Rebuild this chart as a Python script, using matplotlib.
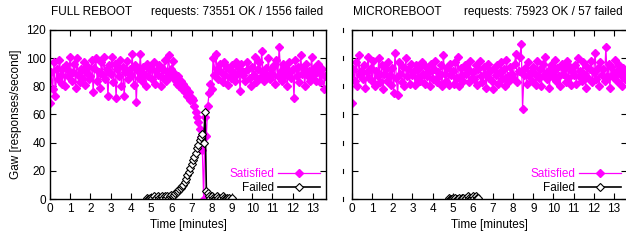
import numpy as np
import matplotlib
matplotlib.use('Agg')
import matplotlib.pyplot as plt

plt.rcParams['font.family'] = ['Liberation Sans', 'DejaVu Sans']
plt.rcParams['font.size'] = 8.5

MAGENTA = '#ff00ff'
STEP = 4  # seconds between samples

# full reboot: satisfied requests per second, one sample every 4 s
full_ok = [
    68, 90, 78, 97, 73, 92, 85, 99, 88, 82, 93, 80, 95, 87, 91,
    101, 84, 90, 96, 79, 100, 88, 83, 92, 86, 97, 81, 90, 94, 85,
    87, 99, 76, 93, 100, 84, 90, 79, 97, 88, 101, 85, 92, 73, 95,
    89, 101, 83, 96, 72, 92, 87, 99, 80, 94, 73, 90, 98, 85, 92,
    88, 103, 81, 95, 69, 91, 86, 103, 84, 94, 89, 80, 96, 87, 92,
    93, 85, 97, 82, 91, 88, 95, 80, 93, 86, 99, 84, 90, 102, 87,
    92, 98, 85, 89, 82, 87, 80, 84, 78, 82, 76, 79, 73, 76, 70,
    72, 70, 66, 62, 58, 55, 50, 44, 35, 0, 58, 45, 66, 75, 82,
    78, 100, 88, 103, 92, 85, 96, 90, 83, 97, 88, 94, 81, 92, 86,
    95, 90, 84, 97, 89, 93, 77, 96, 88, 90, 84, 97, 92, 86, 80,
    94, 88, 101, 83, 92, 97, 86, 105, 90, 84, 93, 88, 100, 85, 92,
    89, 95, 82, 99, 87, 108, 91, 84, 96, 88, 93, 80, 97, 90, 86,
    92, 72, 99, 87, 94, 83, 102, 89, 93, 80, 96, 88, 91, 84, 101,
    88, 93, 84, 90, 96, 83, 89, 92, 78, 87,
]
# full reboot: failed requests, starting at sample 72 (4.8 min)
full_fail_start = 72
full_fail = [
    1, 0, 1, 0, 1, 2, 0, 1, 2, 1, 1, 2, 1, 2, 1, 2, 1, 2,
    3, 2, 3, 4, 5, 6, 7, 8, 9, 10, 12, 14, 17, 19, 22,
    25, 28, 30, 33, 36, 38, 42, 44, 46, 40, 62, 6, 4, 2, 1,
    2, 1, 0, 1, 2, 1, 0, 1, 2, 1, 0, 1, 0, 1, 0, 1,
]

# microreboot
micro_ok = [
    68, 92, 84, 97, 80, 102, 88, 91, 85, 95, 79, 90, 101, 86, 93,
    84, 98, 80, 91, 87, 100, 83, 95, 78, 89, 92, 84, 97, 88, 81,
    93, 75, 104, 86, 74, 97, 89, 83, 94, 80, 100, 87, 92, 82, 96,
    88, 91, 81, 95, 86, 93, 84, 97, 89, 82, 94, 87, 90, 80, 96,
    85, 92, 98, 83, 90, 87, 95, 80, 102, 89, 84, 93, 81, 96, 88,
    91, 82, 97, 86, 101, 80, 93, 88, 84, 95, 89, 92, 83, 98, 86,
    90, 85, 95, 81, 92, 98, 87, 83, 94, 89, 79, 96, 86, 91, 84,
    78, 93, 88, 95, 82, 90, 97, 85, 92, 80, 99, 87, 84, 94, 89,
    86, 96, 103, 83, 91, 101, 110, 64, 88, 93, 82, 97, 87, 90, 84,
    94, 89, 81, 98, 86, 92, 80, 96, 88, 101, 85, 91, 79, 95, 87,
    90, 99, 84, 93, 87, 80, 96, 89, 92, 83, 98, 86, 94, 81, 91,
    88, 95, 82, 100, 87, 91, 84, 97, 89, 79, 94, 86, 92, 98, 83,
    90, 104, 85, 93, 80, 97, 88, 92, 84, 108, 87, 96, 79, 94, 89,
    86, 99, 91, 83, 95, 88, 80, 93, 85, 90,
]
micro_fail_start = 72
micro_fail = [1, 0, 0, 1, 0, 1, 0, 0, 1, 0, 1, 1, 0, 1, 2, 1, 0, 1, 2, 1, 2, 1, 1]

panels = [
    ('FULL REBOOT', 'requests: 73551 OK / 1556 failed', full_ok, full_fail_start, full_fail),
    ('MICROREBOOT', 'requests: 75923 OK / 57 failed', micro_ok, micro_fail_start, micro_fail),
]

W, H = 626, 243
fig = plt.figure(figsize=(W / 100, H / 100), dpi=100)

boxes = [(50, 326), (352, 627)]
top_px, bot_px = 30, 199

for k, (name, reqs, ok, fstart, fail) in enumerate(panels):
    x0, x1 = boxes[k]
    ax = fig.add_axes([x0 / W, 1 - bot_px / H, (x1 - x0) / W, (bot_px - top_px) / H])
    t_ok = np.arange(len(ok)) * STEP / 60
    t_fail = (fstart + np.arange(len(fail))) * STEP / 60
    ax.plot(t_ok, ok, color=MAGENTA, lw=0.9, marker='D', ms=4.2, mec=MAGENTA,
            mfc=MAGENTA, label='Satisfied')
    ax.plot(t_fail, fail, color='black', lw=1.2, marker='D', ms=4.4, mec='black',
            mfc='white', mew=0.8, label='Failed')

    ax.set_xlim(0, 13.65)
    ax.set_ylim(0, 120)
    ax.set_xticks(range(0, 14))
    ax.set_yticks(range(0, 121, 20))
    ax.tick_params(direction='in', length=4, width=0.8, top=True, right=True,
                   pad=3, labelsize=8.5)
    if k == 1:
        ax.set_yticklabels([])
        for yv in range(0, 121, 20):
            ax.plot([-0.45, -0.45], [yv - 1.5, yv + 1.5], color='black', lw=0.8,
                    clip_on=False)
    else:
        ax.set_ylabel('Gaw [responses/second]', labelpad=3)
    for s in ax.spines.values():
        s.set_linewidth(1.0)
    ax.set_xlabel('Time [minutes]', labelpad=3)

    ax.legend(loc='lower right', bbox_to_anchor=(1.0, -0.005), frameon=False,
              markerfirst=False, handlelength=3.6, handletextpad=0.3,
              labelspacing=0.15, borderpad=0.2, borderaxespad=0.3,
              labelcolor='linecolor', fontsize=8.5)

    fig.text(x0 / W + 0.002, 1 - 12 / H, name, ha='left', va='center', fontsize=8.5)
    tx = 151 if k == 0 else 464
    fig.text(tx / W, 1 - 12 / H, reqs, ha='left', va='center', fontsize=8.5)

fig.savefig('out.png', dpi=100)
